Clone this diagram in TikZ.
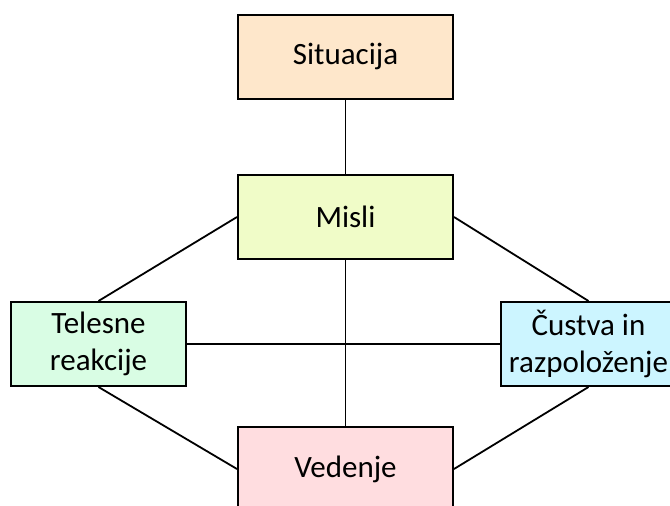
\documentclass[tikz,border=0pt]{standalone}
\usepackage{fontspec}
\setmainfont{Carlito}
\definecolor{csit}{HTML}{FEE7CB}
\definecolor{cmis}{HTML}{F0FCC8}
\definecolor{ctel}{HTML}{D9FDE4}
\definecolor{ccus}{HTML}{CCF5FF}
\definecolor{cved}{HTML}{FFDDE0}
\begin{document}
\begin{tikzpicture}[x=1pt,y=-1pt,
  box/.style={draw=black, line width=2pt, rectangle, align=center, inner sep=0pt,
    font=\fontsize{31}{37}\selectfont, text=black},
  wide/.style={box, minimum width=215pt, minimum height=84pt},
  narrow/.style={box, minimum width=175pt, minimum height=84pt},
  link/.style={draw=black, line width=1.8pt}]
\useasboundingbox (0,0) rectangle (670,506);
\clip (0,0) rectangle (670,506);
\node[wide, fill=csit] (sit) at (345.5,56.5) {Situacija};
\node[wide, fill=cmis] (mis) at (345.5,217) {Misli};
\node[narrow, fill=ctel] (tel) at (98.5,344) {Telesne\\reakcije};
\node[narrow, fill=ccus] (cus) at (588.5,344) {Čustva in\\razpoloženje};
\node[wide, fill=cved] (ved) at (345.5,469) {Vedenje};
\draw[link] (sit.south) -- (mis.north);
\draw[link] (mis.south) -- (ved.north);
\draw[link] (tel.east) -- (cus.west);
\draw[link] (mis.west) -- (tel.north);
\draw[link] (mis.east) -- (cus.north);
\draw[link] (tel.south) -- (ved.west);
\draw[link] (cus.south) -- (ved.east);
\end{tikzpicture}
\end{document}
